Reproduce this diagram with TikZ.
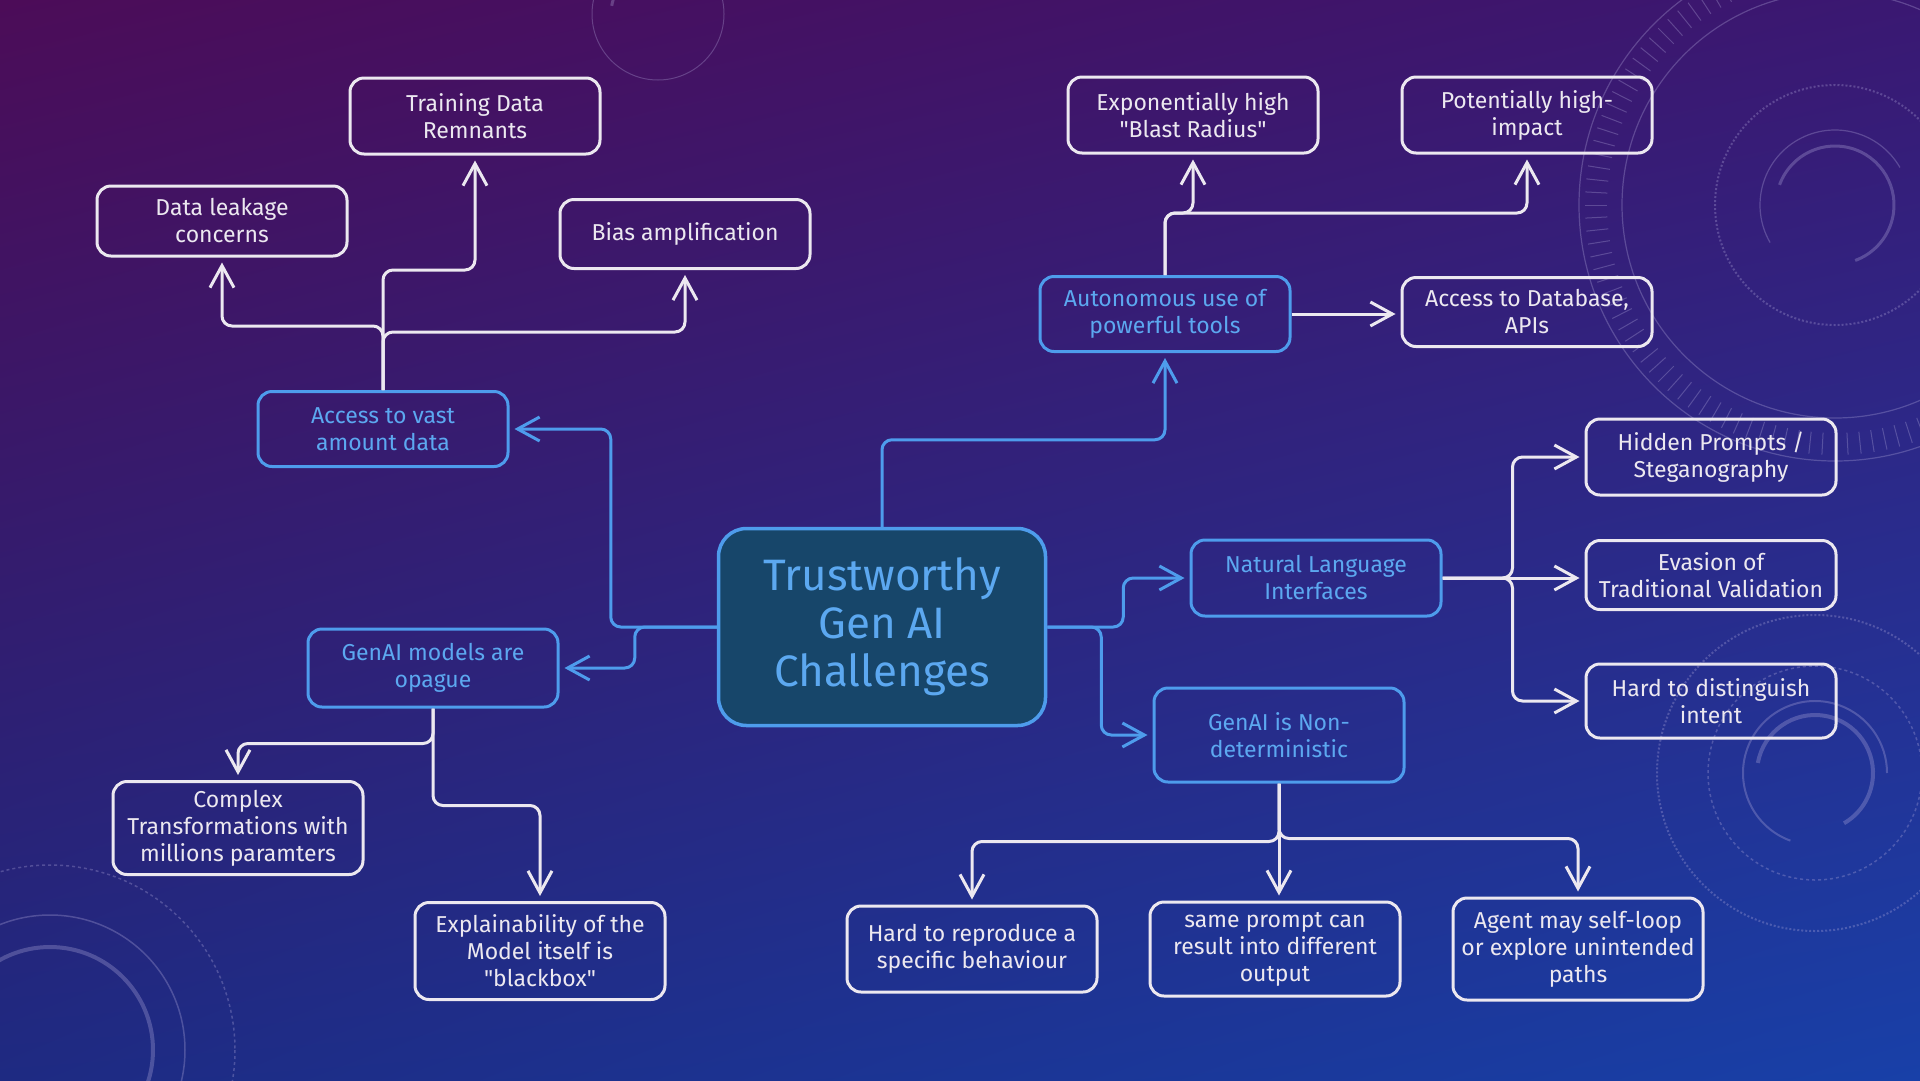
\documentclass[tikz,border=0pt]{standalone}
\usepackage{fontspec}
\setmainfont{Fira Sans}
\usetikzlibrary{arrows.meta,calc,shadings}
\definecolor{bgTL}{HTML}{4C0C58}
\definecolor{bgTR}{HTML}{3A1872}
\definecolor{bgBL}{HTML}{1E2A82}
\definecolor{bgBR}{HTML}{1840A8}
\definecolor{lineW}{HTML}{ECE8F0}
\definecolor{lineB}{HTML}{4E9CEC}
\definecolor{textB}{HTML}{5CA8F0}
\definecolor{coreFill}{HTML}{17466A}
\definecolor{decor}{HTML}{B8B0E0}
\tikzset{
  wbox/.style={draw=lineW, line width=3pt, rounded corners=14pt, text=lineW,
    minimum width=250pt, align=center, inner sep=2pt,
    font=\fontsize{23}{27}\selectfont},
  bbox/.style={wbox, draw=lineB, text=textB},
  corebox/.style={draw=lineB, line width=3.5pt, rounded corners=28pt, fill=coreFill,
    text=textB, minimum width=327pt, minimum height=197pt, align=center,
    font=\fontsize{44}{48}\selectfont},
  wconn/.style={draw=lineW, line width=3pt, rounded corners=10pt,
    -{Straight Barb[length=22pt,width=24pt]}, shorten >=5pt},
  bconn/.style={wconn, draw=lineB},
  deco/.style={draw=decor, opacity=0.3, line width=1.5pt},
}
\begin{document}
\begin{tikzpicture}[x=1pt,y=-1pt]
\useasboundingbox (0,0) rectangle (1920,1080);
\shade[upper left=bgTL, upper right=bgTR, lower left=bgBL, lower right=bgBR] (0,0) rectangle (1920,1080);

% background decorations
\begin{scope}
\clip (0,0) rectangle (1920,1080);
% top centre
\draw[deco, line width=1pt] (658,14) circle[radius=66];
\draw[deco, line width=3pt] (658,14) ++(190:47) arc[start angle=190, end angle=300, radius=47];
% right large
\draw[deco, line width=1.2pt] (1835,205) circle[radius=213];
\draw[deco, line width=1.2pt] (1835,205) circle[radius=256];
\foreach \a in {0,3,...,357} \draw[deco, line width=1pt] (1835,205) ++(\a:228) -- ++(\a:22);
\draw[deco, line width=2pt, dotted] (1835,205) circle[radius=120];
\draw[deco, line width=1.2pt] (1835,205) ++(150:75) arc[start angle=150, end angle=330, radius=75];
\draw[deco, line width=3pt] (1835,205) ++(200:59) arc[start angle=200, end angle=430, radius=59];
% bottom right
\draw[deco, line width=2pt, dotted] (1815,773) circle[radius=158];
\draw[deco, line width=1.5pt, dashed] (1815,773) circle[radius=107];
\draw[deco, line width=2pt] (1815,773) ++(110:72) arc[start angle=110, end angle=360, radius=72];
\draw[deco, line width=4pt] (1815,773) ++(190:58) arc[start angle=190, end angle=420, radius=58];
% bottom left
\draw[deco, line width=1.5pt] (50,1050) circle[radius=135];
\draw[deco, line width=4pt] (50,1050) circle[radius=103];
\draw[deco, line width=1.5pt, dashed] (50,1050) circle[radius=185];
\end{scope}

% nodes
\node[corebox] (C) at (882,627) {Trustworthy\\Gen AI\\Challenges};

\node[bbox, minimum height=75pt] (A) at (383,429) {Access to vast\\amount data};
\node[wbox, minimum height=76pt] (T) at (475,116) {Training Data\\Remnants};
\node[wbox, minimum height=70pt] (DL) at (222,221) {Data leakage\\concerns};
\node[wbox, minimum height=69pt] (B) at (685,234) {Bias amplification};

\node[bbox, minimum height=75pt] (AU) at (1165,314) {Autonomous use of\\powerful tools};
\node[wbox, minimum height=76pt] (EX) at (1193,115) {Exponentially high\\\textquotedbl Blast Radius\textquotedbl};
\node[wbox, minimum height=76pt] (PH) at (1527,115) {Potentially high-\\impact};
\node[wbox, minimum height=69pt] (AD) at (1527,312) {Access to Database,\\APIs};

\node[bbox, minimum height=76pt] (N) at (1316,578) {Natural Language\\Interfaces};
\node[wbox, minimum height=76pt] (HP) at (1711,457) {Hidden Prompts /\\Steganography};
\node[wbox, minimum height=69pt] (EV) at (1711,575) {Evasion of\\Traditional Validation};
\node[wbox, minimum height=74pt] (HD) at (1711,701) {Hard to distinguish\\intent};

\node[bbox, minimum height=94pt] (ND) at (1279,735) {GenAI is Non-\\deterministic};
\node[wbox, minimum height=86pt] (HR) at (972,949) {Hard to reproduce a\\specific behaviour};
\node[wbox, minimum height=94pt] (SP) at (1275,949) {same prompt can\\result into different\\output};
\node[wbox, minimum height=102pt] (AG) at (1578,949) {Agent may self-loop\\or explore unintended\\paths};

\node[bbox, minimum height=78pt] (G) at (433,668) {GenAI models are\\opague};
\node[wbox, minimum height=93pt] (CT) at (238,828) {Complex\\Transformations with\\millions paramters};
\node[wbox, minimum height=97pt] (EB) at (540,951) {Explainability of the\\Model itself is\\\textquotedbl blackbox\textquotedbl};

% connectors from core (blue)
\draw[bconn] (C.west) -- ++(-106,0) |- (A.east);
\draw[bconn] (C.west) -- ++(-82,0) |- (G.east);
\draw[bconn] (C.north) -- ++(0,-87) -| (AU.south);
\draw[bconn] (C.east) -- ++(76,0) |- (N.west);
\draw[bconn] (C.east) -- ++(54,0) |- (ND.west);

% white connectors
\draw[wconn] (A.north) -- ++(0,-64) -| (DL.south);
\draw[wconn] (A.north) -- ++(0,-120) -| (T.south);
\draw[wconn] (A.north) -- ++(0,-58) -| (B.south);

\draw[wconn] (AU.north) -- ++(0,-62) -| (EX.south);
\draw[wconn] (AU.north) -- ++(0,-62) -| (PH.south);
\draw[wconn] (AU.east) -- (AU.east -| AD.west);

\draw[wconn] (N.east) -- ++(70,0) |- (HP.west);
\draw[wconn] (N.east) -- (N.east -| EV.west);
\draw[wconn] (N.east) -- ++(70,0) |- (HD.west);

\draw[wconn] (ND.south) -- ++(0,58) -| (HR.north);
\draw[wconn] (ND.south) -- (ND.south |- SP.north);
\draw[wconn] (ND.south) -- ++(0,55) -| (AG.north);

\draw[wconn] (G.south) -- ++(0,35) -| (CT.north);
\draw[wconn] (G.south) -- ++(0,97) -| (EB.north);
\end{tikzpicture}
\end{document}
